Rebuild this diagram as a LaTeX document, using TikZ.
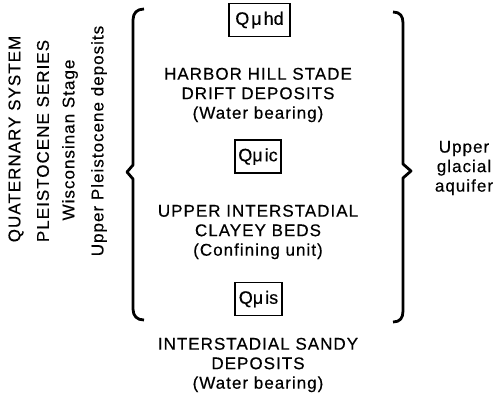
\documentclass[tikz,border=0pt]{standalone}
\usepackage{fontspec}
\setmainfont{Liberation Sans}[LetterSpace=6,FakeBold=0.4]
\newfontfamily\boxfont{Liberation Sans}[FakeBold=0.4]
\begin{document}
\begin{tikzpicture}[x=1pt,y=-1pt,
  txt/.style={font=\fontsize{17}{19.5}\selectfont, align=center, inner sep=0pt},
  rot/.style={font=\fontsize{17}{19.5}\selectfont, rotate=90, inner sep=0pt},
  unitbox/.style={draw, line width=1.8pt, font=\boxfont\fontsize{18}{22}\selectfont, inner sep=0pt, minimum height=33pt},
  bracel/.style={line width=2.8pt, line join=round}
]
\useasboundingbox (0,0) rectangle (502,402);
% left rotated labels
\node[rot] (q1) at (16,139) {QUATERNARY SYSTEM};
\node[rot] (q2) at (43,141) {PLEISTOCENE SERIES};
\node[rot] (q3) at (70,140) {Wisconsinan Stage};
\node[rot] (q4) at (99,141) {Upper Pleistocene deposits};
% boxes
\node[unitbox, minimum width=61pt] (b1) at (259.5,20) {Q\hspace{2pt}μ\hspace{2pt}hd};
\node[unitbox, minimum width=46pt] (b2) at (258,156.5) {Qμ\hspace{2pt}ic};
\node[unitbox, minimum width=47pt] (b3) at (258.5,299) {Qμ\hspace{2pt}is};
% texts
\node[txt] (t1) at (258,95) {HARBOR HILL STADE\\DRIFT DEPOSITS\\(Water bearing)};
\node[txt] (t2) at (258,232) {UPPER INTERSTADIAL\\CLAYEY BEDS\\(Confining unit)};
\node[txt] (t3) at (258,365) {INTERSTADIAL SANDY\\DEPOSITS\\(Water bearing)};
\node[txt] (t4) at (464,168) {Upper\\glacial\\aquifer};
% braces
\draw[bracel] (144,9) .. controls (137,9) and (133,13) .. (133,20) -- (133,165) -- (127,172) -- (133,179) -- (133,309) .. controls (133,316) and (137,320) .. (144,320);
\draw[bracel] (393,12) .. controls (400,12) and (403,16) .. (403,23) -- (403,164) -- (411,171) -- (403,178) -- (403,311) .. controls (403,318) and (400,322) .. (393,322);
\end{tikzpicture}
\end{document}
